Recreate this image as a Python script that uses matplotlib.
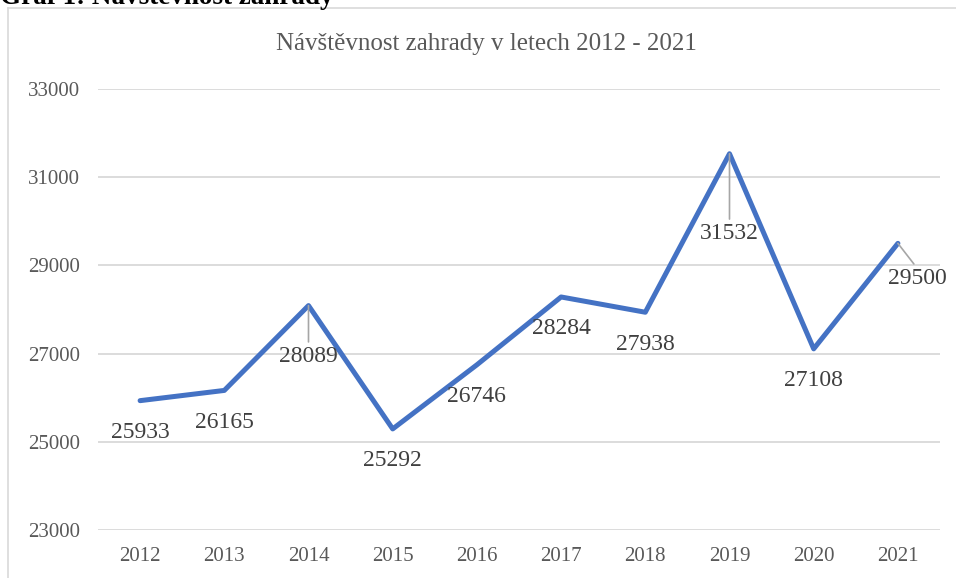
import matplotlib.pyplot as plt
from matplotlib.lines import Line2D

# data
years = ['2012', '2013', '2014', '2015', '2016', '2017', '2018', '2019', '2020', '2021']
visitors = [25933, 26165, 28089, 25292, 26746, 28284, 27938, 31532, 27108, 29500]

# label offsets (pixels) for the data labels, leader lines for a few
label_offsets = [(0, -32)] * 10
label_offsets[2] = (0, -51)
label_offsets[7] = (0, -80)
label_offsets[9] = (19, -35)
leader = [False, False, True, False, False, False, False, True, False, True]

LINE_COLOR = '#4472C4'
GRID_COLOR = '#D9D9D9'
TICK_COLOR = '#595959'
LABEL_COLOR = '#404040'
LEADER_COLOR = '#A6A6A6'

plt.rcParams['font.family'] = ['Liberation Serif', 'DejaVu Serif']

fig = plt.figure(figsize=(9.56, 5.78), dpi=100)
ax = fig.add_axes([98 / 956, 1 - 530 / 578, 842 / 956, 441 / 578])

x = list(range(len(years)))
ax.plot(x, visitors, color=LINE_COLOR, linewidth=3.6,
        solid_joinstyle='round', solid_capstyle='round', zorder=3)

for i, v in enumerate(visitors):
    props = None
    if leader[i]:
        props = dict(arrowstyle='-', color=LEADER_COLOR, lw=1.2,
                     shrinkA=1, shrinkB=0, relpos=(0.5, 1.0))
    ax.annotate(str(v), xy=(i, v), xytext=label_offsets[i],
                textcoords='offset pixels', ha='center', va='center',
                fontsize=17, color=LABEL_COLOR, arrowprops=props, zorder=4)

ax.set_xlim(-0.5, len(years) - 0.5)
ax.set_ylim(23000, 33000)
ax.set_yticks(range(23000, 33001, 2000))
ax.set_xticks(x)
ax.set_xticklabels(years)

ax.grid(True, axis='y', color=GRID_COLOR, linewidth=1.3, zorder=0)
ax.set_axisbelow(True)
for s in ax.spines.values():
    s.set_visible(False)
ax.tick_params(axis='y', length=0, pad=13, labelsize=15, labelcolor=TICK_COLOR)
ax.tick_params(axis='x', length=0, pad=12, labelsize=15, labelcolor=TICK_COLOR)

# chart title
fig.text(486 / 956, 1 - 44 / 578, 'Návštěvnost zahrady v letech 2012 - 2021',
         ha='center', va='center', fontsize=18, color=TICK_COLOR)

# caption cut off at the top of the picture, as in the source
fig.text(0.0, 1 - 4 / 578, 'Graf 1: Návštěvnost zahrady', ha='left',
         va='baseline', fontsize=19.5, fontweight='bold', color='black')

# chart frame (left and top edges)
fig.add_artist(Line2D([8 / 956, 8 / 956], [0, 1 - 8 / 578], color=GRID_COLOR,
                      linewidth=1.2, transform=fig.transFigure))
fig.add_artist(Line2D([8 / 956, 1], [1 - 8 / 578, 1 - 8 / 578], color=GRID_COLOR,
                      linewidth=1.2, transform=fig.transFigure))

fig.savefig('out.png', dpi=100, facecolor='white')
